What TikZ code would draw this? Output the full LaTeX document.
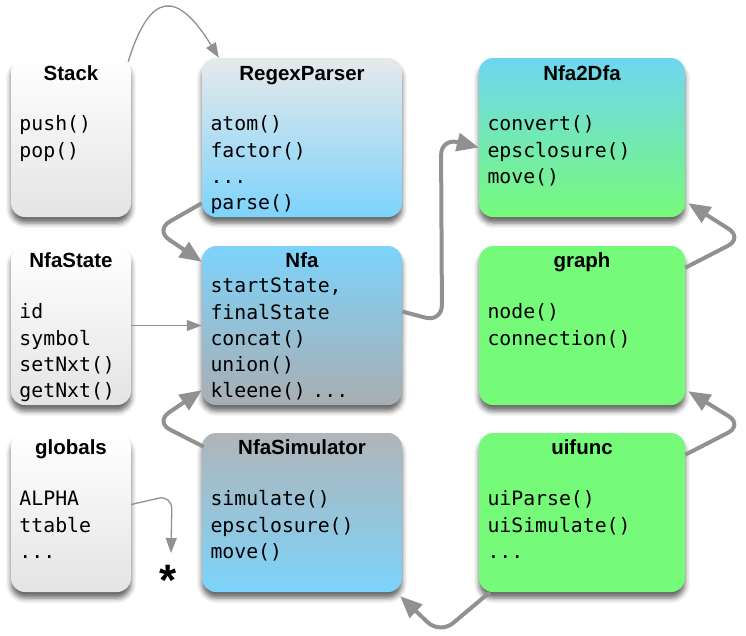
\documentclass[tikz,border=0pt]{standalone}
\usepackage{fontspec}
\setmainfont{Liberation Sans}
\newfontfamily\membfont{DejaVu Sans Mono}
\usetikzlibrary{arrows.meta, shadows.blur}
\definecolor{boxblue}{RGB}{125,211,251}
\definecolor{boxcyan}{RGB}{111,214,240}
\definecolor{boxgreen}{RGB}{118,250,122}
\definecolor{boxgray}{RGB}{168,174,178}
\definecolor{boxsteel}{RGB}{176,181,184}
\definecolor{boxtop}{RGB}{230,233,235}
\definecolor{boxlight}{RGB}{228,228,228}
\definecolor{linkgray}{RGB}{145,145,145}
\tikzset{>={Triangle[length=15pt,width=11pt]},
  classbox/.style={rectangle, rounded corners=14pt, inner sep=0pt, minimum height=159pt,
    blur shadow={shadow xshift=0pt, shadow yshift=-6pt, shadow blur radius=5pt, shadow opacity=60}},
  classname/.style={anchor=base, inner sep=0pt, font=\fontsize{20.5}{24}\selectfont\bfseries},
  members/.style={anchor=base west, inner sep=0pt, align=left, text width=195pt,
    font=\membfont\fontsize{19.8}{26.2}\selectfont},
  link/.style={draw=linkgray, line width=1.3pt, ->},
  flow/.style={draw=linkgray, line width=4pt, -{Triangle[length=22pt,width=18pt]}, rounded corners=17pt}}

\begin{document}
\begin{tikzpicture}[x=1pt, y=-1pt]
    \useasboundingbox (0,0) rectangle (746,635);
    % left column
    \node[classbox, minimum width=120pt, top color=white, bottom color=boxlight] (stack) at (71,137.5) {};
    \node[classbox, minimum width=120pt, top color=white, bottom color=boxlight] (nfastate) at (71,325.5) {};
    \node[classbox, minimum width=120pt, top color=white, bottom color=boxlight] (globals) at (71,512.5) {};
    % middle column
    \node[classbox, minimum width=200pt, top color=boxtop, bottom color=boxblue] (regex) at (302,137.5) {};
    \node[classbox, minimum width=200pt, top color=boxblue, bottom color=boxgray] (nfa) at (302,325.5) {};
    \node[classbox, minimum width=200pt, top color=boxsteel, bottom color=boxblue] (sim) at (302,512.5) {};
    % right column
    \node[classbox, minimum width=206pt, top color=boxcyan, bottom color=boxgreen] (n2d) at (582,137.5) {};
    \node[classbox, minimum width=206pt, fill=boxgreen] (graph) at (582,325.5) {};
    \node[classbox, minimum width=206pt, fill=boxgreen] (ui) at (582,512.5) {};

    \node[classname] (stack-t) at ([yshift=-23pt]stack.north) {Stack};
    \node[members] (stack-m) at ([shift={(8.5pt,-73pt)}]stack.north west) {push()\\pop()};
    \node[classname] (nfastate-t) at ([yshift=-22pt]nfastate.north) {NfaState};
    \node[members] (nfastate-m) at ([shift={(8.5pt,-73pt)}]nfastate.north west) {id\\symbol\\setNxt()\\getNxt()};
    \node[classname] (globals-t) at ([yshift=-22pt]globals.north) {globals};
    \node[members] (globals-m) at ([shift={(8.5pt,-73pt)}]globals.north west) {ALPHA\\ttable\\...};

    \node[classname] (regex-t) at ([yshift=-23pt]regex.north) {RegexParser};
    \node[members] (regex-m) at ([shift={(8.5pt,-73pt)}]regex.north west) {atom()\\factor()\\...\\parse()};
    \node[classname] (nfa-t) at ([yshift=-22pt]nfa.north) {Nfa};
    \node[members] (nfa-m) at ([shift={(8.5pt,-47pt)}]nfa.north west) {startState,\\finalState\\concat()\\union()\\kleene() ...};
    \node[classname] (sim-t) at ([yshift=-22pt]sim.north) {NfaSimulator};
    \node[members] (sim-m) at ([shift={(8.5pt,-73pt)}]sim.north west) {simulate()\\epsclosure()\\move()};

    \node[classname] (n2d-t) at ([yshift=-23pt]n2d.north) {Nfa2Dfa};
    \node[members] (n2d-m) at ([shift={(8.5pt,-73pt)}]n2d.north west) {convert()\\epsclosure()\\move()};
    \node[classname] (graph-t) at ([yshift=-22pt]graph.north) {graph};
    \node[members] (graph-m) at ([shift={(8.5pt,-73pt)}]graph.north west) {node()\\connection()};
    \node[classname] (ui-t) at ([yshift=-22pt]ui.north) {uifunc};
    \node[members] (ui-m) at ([shift={(8.5pt,-73pt)}]ui.north west) {uiParse()\\uiSimulate()\\...};

    \node[inner sep=0pt, font=\fontsize{44}{44}\selectfont\bfseries] (star) at (168,580) {*};
    \coordinate (starin) at (171,553);

    % connectors
    \draw[link] ([shift={(-3pt,-4pt)}]stack.north east) .. controls +(22,-72) and +(-41,-67) .. ([xshift=17pt]regex.north west);
    \draw[link] (nfastate.east) -- (nfa.west);
    \draw[link, rounded corners=14pt] ([yshift=8pt]globals.east) -- (172,495) -- (starin);
    \draw[flow] ([yshift=14pt]regex.south west) -- (155,230) -- ([yshift=-16pt]nfa.north west);
    \draw[flow] ([shift={(2pt,-14pt)}]sim.north west) -- (155,422) -- ([yshift=15pt]nfa.south west);
    \draw[flow] ([yshift=14pt]nfa.east) -- (442,322) -- (441,138) -- ([yshift=-10pt]n2d.west);
    \draw[flow] ([yshift=-22pt]graph.north east) -- (743,238) -- ([shift={(3pt,14pt)}]n2d.south east);
    \draw[flow] ([yshift=-22pt]ui.north east) -- (743,425) -- ([shift={(3pt,14pt)}]graph.south east);
    \draw[flow] ([xshift=11pt]ui.south west) -- (440,634) -- ([shift={(-2pt,-4pt)}]sim.south east);
\end{tikzpicture}
\end{document}
